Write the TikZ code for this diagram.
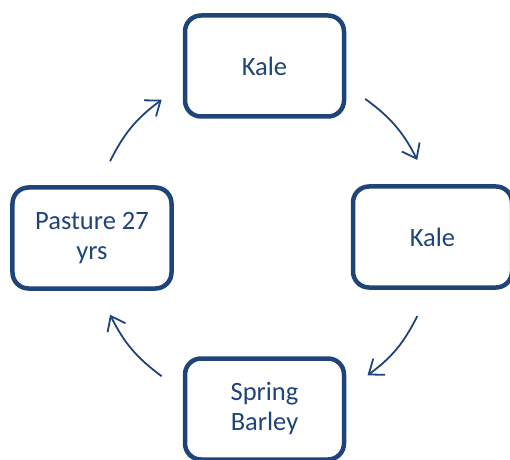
\documentclass[tikz,border=0pt]{standalone}
\usepackage{fontspec}
\setmainfont{Carlito}
\usetikzlibrary{arrows.meta}
\definecolor{cropblue}{RGB}{31,68,121}
\tikzstyle{crop} = [rectangle, draw=cropblue, line width=4.5bp, rounded corners=16bp, minimum width=159bp, minimum height=101bp, align=center, text=cropblue, font=\fontsize{26.5bp}{30bp}\selectfont]
\tikzset{edge/.style = {
    draw=cropblue, line width=1.8bp,
    -{Straight Barb[length=13bp, width=20bp]},
  }
}

\begin{document}
\begin{tikzpicture}[x=1bp, y=-1bp]
            \useasboundingbox (0,0) rectangle (510,460);
            % vertices
            \node[crop] (kale1) at (264.5, 66) {Kale};
            \node[crop] (kale2) at (432.5, 237) {Kale};
            \node[crop] (barley) at (264.5, 409) {Spring\\Barley};
            \node[crop] (pasture) at (92, 238) {Pasture 27\\yrs};

            % ends of the rotation arrows
            \coordinate (hub) at (264, 238);
            \coordinate (a1s) at ([shift={(-54:172)}]hub);
            \coordinate (a1e) at ([shift={(-27:172)}]hub);
            \coordinate (a2s) at ([shift={(27:172)}]hub);
            \coordinate (a2e) at ([shift={(53:172)}]hub);
            \coordinate (a3s) at ([shift={(126.5:172)}]hub);
            \coordinate (a3e) at ([shift={(153.5:172)}]hub);
            \coordinate (a4s) at ([shift={(-153.5:172)}]hub);
            \coordinate (a4e) at ([shift={(-126.5:172)}]hub);

            %edges
            \draw[edge] (a1s) to [bend left=13.5] (a1e);
            \draw[edge] (a2s) to [bend left=13.5] (a2e);
            \draw[edge] (a3s) to [bend left=13.5] (a3e);
            \draw[edge] (a4s) to [bend left=13.5] (a4e);
\end{tikzpicture}
\end{document}
